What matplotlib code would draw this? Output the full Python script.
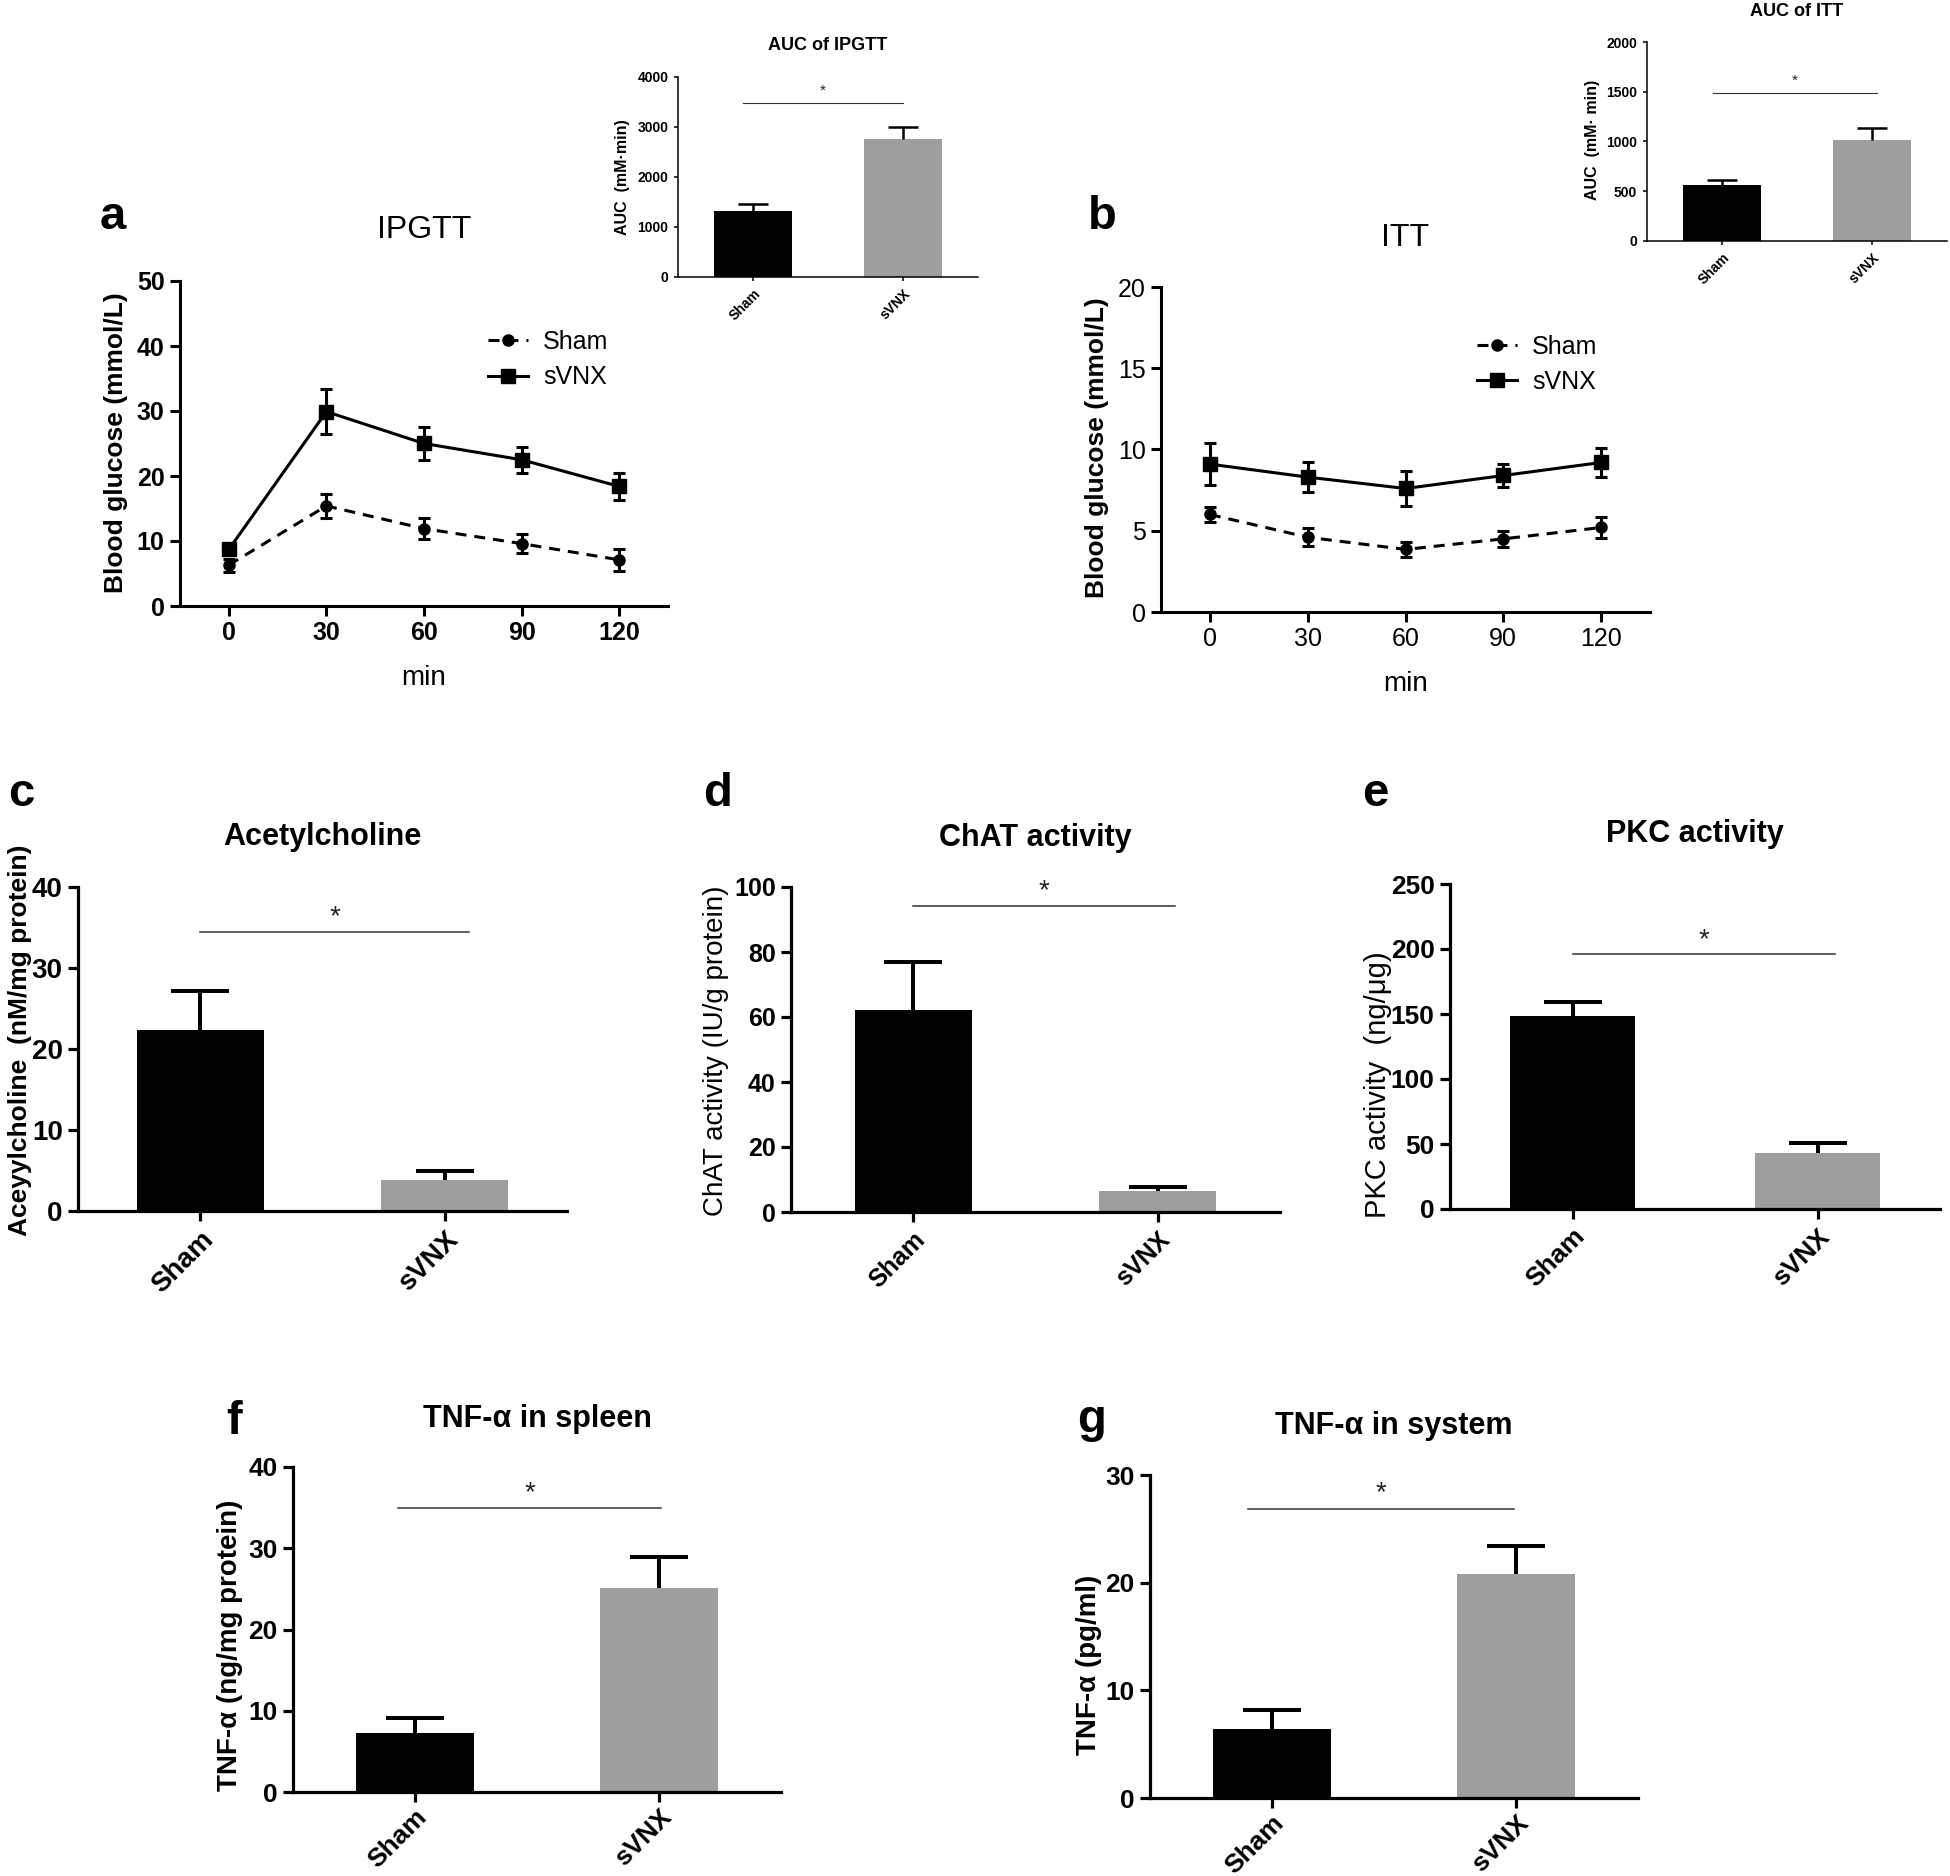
import matplotlib
matplotlib.use('Agg')
import matplotlib.pyplot as plt
from matplotlib import font_manager
import numpy as np

W, H, DPI = 1950, 1876, 100
names = {f.name for f in font_manager.fontManager.ttflist}
SANS = 'Liberation Sans' if 'Liberation Sans' in names else 'DejaVu Sans'
plt.rcParams['font.family'] = [SANS, 'DejaVu Sans']

# ---------------- data ----------------
times = [0, 30, 60, 90, 120]
groups = ['Sham', 'sVNX']

ipgtt_sham = [6.3, 15.4, 11.9, 9.6, 7.1]
ipgtt_sham_err = [1.0, 1.8, 1.6, 1.5, 1.7]
ipgtt_svnx = [8.7, 29.9, 25.0, 22.5, 18.4]
ipgtt_svnx_err = [0.9, 3.5, 2.6, 2.0, 2.1]

itt_sham = [6.0, 4.6, 3.85, 4.5, 5.2]
itt_sham_err = [0.45, 0.55, 0.45, 0.5, 0.65]
itt_svnx = [9.1, 8.3, 7.6, 8.4, 9.2]
itt_svnx_err = [1.3, 0.9, 1.1, 0.7, 0.9]

auc_ipgtt = [1320, 2753]
auc_ipgtt_err = [147, 240]
auc_itt = [561, 1015]
auc_itt_err = [51, 118]

ach = [22.3, 3.8]
ach_err = [4.8, 1.1]
chat = [62.1, 6.6]
chat_err = [14.9, 1.0]
pkc = [148.1, 43.1]
pkc_err = [11.4, 8.0]
tnf_spleen = [7.3, 25.1]
tnf_spleen_err = [1.75, 3.8]
tnf_system = [6.43, 20.8]
tnf_system_err = [1.77, 2.6]

BAR_COLORS = ['#000000', '#9e9e9e']

fig = plt.figure(figsize=(W / DPI, H / DPI), dpi=DPI)


def fx(x):
    return x / W


def fy(y):
    return 1 - y / H


def axes_px(l, t, r, b):
    return fig.add_axes([fx(l), fy(b), (r - l) / W, (b - t) / H])


def style_axes(ax, lw, ticklen, tickfs, bold, pad=4):
    for s in ['top', 'right']:
        ax.spines[s].set_visible(False)
    for s in ['left', 'bottom']:
        ax.spines[s].set_linewidth(lw)
    ax.tick_params(direction='out', length=ticklen, width=lw, labelsize=tickfs, pad=pad)
    for lab in ax.get_yticklabels():
        lab.set_fontweight('bold' if bold else 'normal')


def line_panel(rect, sham, sham_err, svnx, svnx_err, ymax, ystep, title, title_y,
               leg_xy, tick_bold):
    ax = axes_px(*rect)
    ax.errorbar(times, sham, yerr=sham_err, fmt='none', ecolor='k', elinewidth=2.2,
                capsize=4.5, capthick=2.2)
    ax.errorbar(times, svnx, yerr=svnx_err, fmt='none', ecolor='k', elinewidth=2.2,
                capsize=4.5, capthick=2.2)
    ax.plot(times, sham, color='k', lw=2.2, ls=(0, (3.6, 2.6)), marker='o', ms=8,
            label='Sham')
    ax.plot(times, svnx, color='k', lw=2.2, ls='-', marker='s', ms=10, label='sVNX')
    ax.set_xlim(-15, 135)
    ax.set_ylim(0, ymax)
    ax.set_xticks(times)
    ax.set_yticks(np.arange(0, ymax + 0.001, ystep))
    style_axes(ax, 2.2, 7, 18, tick_bold)
    for lab in ax.get_xticklabels():
        lab.set_fontweight('bold' if tick_bold else 'normal')
    ax.set_xlabel('min', fontsize=20, labelpad=14)
    cx = (rect[0] + rect[2]) / 2
    fig.text(fx(cx), fy(title_y), title, fontsize=23, ha='center', va='center')
    ax.legend(loc='upper left', bbox_to_anchor=(fx(leg_xy[0]), fy(leg_xy[1])),
              bbox_transform=fig.transFigure, frameon=False, fontsize=18,
              handlelength=1.6, handletextpad=0.6, labelspacing=0.45,
              borderpad=0, borderaxespad=0)
    return ax


def bar_panel(rect, vals, errs, ymax, ystep, sig_y, sig_x, star_y, title, title_y,
              tickfs, catfs, lw=2.3, capsize=21, capthick=2.9, sig_lw=1.1, starfs=20,
              ticklen=7, title_fs=22, title_bold=True, width=0.5, xpad=4):
    ax = axes_px(*rect)
    x = np.arange(len(groups))
    ax.bar(x, vals, width=width, color=BAR_COLORS, zorder=2)
    cont = ax.errorbar(x, vals, yerr=[np.zeros(len(vals)), errs], fmt='none', ecolor='k',
                       elinewidth=capthick, capsize=capsize, capthick=capthick, zorder=3)
    caplines = cont[1]
    if len(caplines) >= 2:
        caplines[0].set_visible(False)  # one-sided (upper) error bar only
    ax.set_xlim(-0.5, 1.5)
    ax.set_ylim(0, ymax)
    ax.set_yticks(np.arange(0, ymax + 0.001, ystep))
    ax.set_xticks(x)
    ax.set_xticklabels(groups, rotation=45, ha='right', va='top',
                       rotation_mode='anchor', fontsize=catfs, fontweight='bold')
    style_axes(ax, lw, ticklen, tickfs, True)
    ax.tick_params(axis='x', pad=xpad)
    ax.plot(sig_x, [sig_y, sig_y], color='#333333', lw=sig_lw, clip_on=False, zorder=4)
    ax.text(np.mean(sig_x), star_y, '*', ha='center', va='center', fontsize=starfs,
            color='#222222')
    cx = (rect[0] + rect[2]) / 2
    fig.text(fx(cx), fy(title_y), title, fontsize=title_fs, ha='center', va='center',
             fontweight='bold' if title_bold else 'normal')
    return ax


# ---------------- panel a ----------------
line_panel((180, 281, 668, 606), ipgtt_sham, ipgtt_sham_err, ipgtt_svnx, ipgtt_svnx_err,
           50, 10, 'IPGTT', 230, (488, 330), True)
fig.text(fx(116), fy(443), 'Blood glucose (mmol/L)', rotation=90, fontsize=19,
         fontweight='bold', ha='center', va='center')
fig.text(fx(100), fy(229), 'a', fontsize=34, fontweight='bold', ha='left', va='baseline')

# ---------------- panel b ----------------
line_panel((1161, 287, 1650, 612), itt_sham, itt_sham_err, itt_svnx, itt_svnx_err,
           20, 5, 'ITT', 238, (1477, 335), False)
fig.text(fx(1097), fy(448), 'Blood glucose (mmol/L)', rotation=90, fontsize=19,
         fontweight='bold', ha='center', va='center')
fig.text(fx(1088), fy(229), 'b', fontsize=34, fontweight='bold', ha='left', va='baseline')

# ---------------- insets ----------------
bar_panel((678, 77, 978, 277), auc_ipgtt, auc_ipgtt_err, 4000, 1000, 3487, [-0.07, 1.0],
          3720, 'AUC of IPGTT', 45, 10, 10, lw=1.1, capsize=11, capthick=1.8,
          sig_lw=0.8, starfs=11, ticklen=3, title_fs=13, width=0.52)
fig.text(fx(622), fy(177), 'AUC  (mM·min)', rotation=90, fontsize=11.5,
         fontweight='bold', ha='center', va='center')

bar_panel((1647, 42, 1947, 241), auc_itt, auc_itt_err, 2000, 500, 1486, [-0.06, 1.03],
          1610, 'AUC of ITT', 11, 10, 10, lw=1.1, capsize=11, capthick=1.8,
          sig_lw=0.8, starfs=11, ticklen=3, title_fs=13, width=0.52)
fig.text(fx(1593), fy(140), 'AUC  (mM· min)', rotation=90, fontsize=11.5,
         fontweight='bold', ha='center', va='center')

# ---------------- panel c ----------------
bar_panel((78, 887, 567, 1211), ach, ach_err, 40, 10, 34.4, [0.0, 1.1], 36.3,
          'Acetylcholine', 837, 20, 19, width=0.52)
fig.text(fx(20), fy(1040), 'Aceyylcholine  (nM/mg protein)', rotation=90, fontsize=19,
         fontweight='bold', ha='center', va='center')
fig.text(fx(8), fy(806), 'c', fontsize=34, fontweight='bold', ha='left', va='baseline')

# ---------------- panel d ----------------
bar_panel((791, 887, 1280, 1212), chat, chat_err, 100, 20, 94.1, [0.0, 1.07], 98.8,
          'ChAT activity', 838, 18, 19, width=0.48)
fig.text(fx(716), fy(1051), 'ChAT activity (IU/g protein)', rotation=90, fontsize=20,
         ha='center', va='center')
fig.text(fx(703), fy(806), 'd', fontsize=34, fontweight='bold', ha='left', va='baseline')

# ---------------- panel e ----------------
bar_panel((1450, 884, 1940, 1209), pkc, pkc_err, 250, 50, 195.8, [0.0, 1.07], 207,
          'PKC activity', 834, 19, 19, width=0.51)
fig.text(fx(1378), fy(1085), 'PKC activity  (ng/μg)', rotation=90, fontsize=21,
         ha='center', va='center')
fig.text(fx(1362), fy(806), 'e', fontsize=34, fontweight='bold', ha='left', va='baseline')

# ---------------- panel f ----------------
bar_panel((293, 1467, 781, 1792), tnf_spleen, tnf_spleen_err, 40, 10, 34.9, [-0.07, 1.01],
          36.8, 'TNF-α in spleen', 1419, 19, 17, width=0.48, xpad=2)
fig.text(fx(230), fy(1645), 'TNF-α (ng/mg protein)', rotation=90, fontsize=20,
         fontweight='bold', ha='center', va='center')
fig.text(fx(226), fy(1434), 'f', fontsize=34, fontweight='bold', ha='left', va='baseline')

# ---------------- panel g ----------------
bar_panel((1150, 1475, 1638, 1798), tnf_system, tnf_system_err, 30, 10, 26.8, [-0.1, 0.99],
          28.3, 'TNF-α in system', 1426, 19, 17, width=0.48, xpad=2)
fig.text(fx(1089), fy(1665), 'TNF-α (pg/ml)', rotation=90, fontsize=20,
         fontweight='bold', ha='center', va='center')
fig.text(fx(1077), fy(1432), 'g', fontsize=34, fontweight='bold', ha='left', va='baseline')

fig.savefig('out.png', dpi=DPI)
